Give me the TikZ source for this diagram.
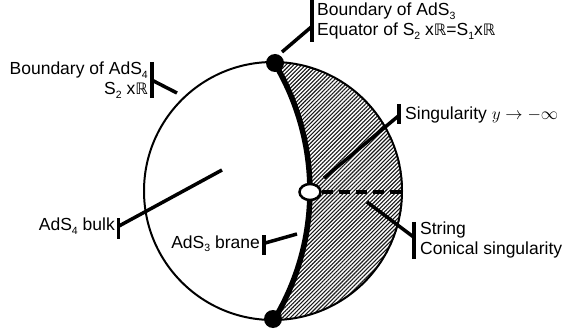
\documentclass[tikz,border=0pt]{standalone}
\usepackage{fontspec}
\setmainfont{Liberation Sans}
\newfontfamily\dvfont{DejaVu Sans}[Scale=0.9]
\usetikzlibrary{patterns.meta,shapes.geometric}
\newcommand{\subs}[1]{\raisebox{-0.35ex}{\fontsize{10.5}{10.5}\selectfont #1}}
\newcommand{\RR}{{\dvfont ℝ}}
\begin{document}
\begin{tikzpicture}[x=1pt,y=1pt,
  lbl/.style={inner sep=0pt, font=\fontsize{17.5}{20}\selectfont},
  leader/.style={line width=3.5pt},
  barline/.style={line width=3.5pt},
  outline/.style={line width=2pt},
  bigdot/.style={circle, fill=black, minimum size=18pt, inner sep=0pt},
  opendot/.style={ellipse, draw, fill=white, line width=2.5pt, minimum width=21pt, minimum height=16pt, inner sep=0pt},
]
\fill[white] (0,0) rectangle (565,-331);
\useasboundingbox (0,0) rectangle (565,-331);
\coordinate (C) at (273,-191);
\coordinate (T) at (273.9,-62);
\coordinate (B) at (273.9,-320);
\coordinate (O) at (310,-192);
\coordinate (E) at (402,-192);
% hatched region
\fill[pattern={Lines[angle=45,distance=2.8pt,line width=1.1pt]}, pattern color=black!90]
  (T) arc[start angle=31.2,end angle=-31.2,radius=249.1]
      arc[start angle=-90,end angle=90,radius=129] -- cycle;
% AdS4 circle
\draw[outline] (C) circle[radius=129];
% brane
\draw[line width=5.5pt] (T) arc[start angle=31.2,end angle=-31.2,radius=249.1];
% dots
\node[bigdot] (td) at (275,-63) {};
\node[bigdot] (bd) at (273,-319) {};
\node[opendot] (oc) at (O) {};
% string
\draw[line width=4.5pt, dash pattern=on 11pt off 6pt] (oc.east) -- (E);

% labels
\node[lbl, anchor=north west, align=left] (lt) at (317,-3)
  {Boundary of AdS\subs{3}\\Equator of S\subs{2} x\RR=S\subs{1}x\RR};
\node[lbl, anchor=north east, align=right] (ll) at (148,-62)
  {Boundary of AdS\subs{4}\\S\subs{2} x\RR};
\node[lbl, anchor=base west] (ls) at (405,-120) {Singularity $y\to-\infty$};
\node[lbl, anchor=north west, align=left] (lst) at (420,-222)
  {String\\Conical singularity};
\node[lbl, anchor=base east] (lb) at (115,-231) {AdS\subs{4} bulk};
\node[lbl, anchor=base east] (lbr) at (260,-248) {AdS\subs{3} brane};

% leader end points
\coordinate (pt) at (282,-52);
\coordinate (pl) at (177,-93);
\coordinate (ps) at (324,-178);
\coordinate (pst) at (367,-202);
\coordinate (pb) at (222,-170);
\coordinate (pbr) at (297,-234);

% bars
\draw[barline] ([xshift=-5pt,yshift=3pt]lt.north west) -- ([xshift=-5pt,yshift=-2pt]lt.south west);
\draw[barline] ([xshift=4pt]ll.north east) -- ([xshift=4pt]ll.south east);
\draw[barline] ([xshift=-6pt,yshift=3pt]ls.north west) -- ([xshift=-6pt]ls.south west);
\draw[barline] ([xshift=-6pt]lst.north west) -- ([xshift=-6pt]lst.south west);
\draw[barline] ([xshift=3.5pt]lb.north east) -- ([xshift=3.5pt,yshift=-5pt]lb.south east);
\draw[barline] ([xshift=4pt]lbr.north east) -- ([xshift=4pt,yshift=-3pt]lbr.south east);

% leaders
\draw[leader] (pt) -- ([xshift=-5pt,yshift=-5pt]lt.west);
\draw[leader] ([xshift=4pt]ll.east) -- (pl);
\draw[leader] (ps) -- ([xshift=-6pt]ls.west);
\draw[leader] (pst) -- ([xshift=-6pt,yshift=3pt]lst.west);
\draw[leader] ([xshift=3.5pt]lb.east) -- (pb);
\draw[leader] ([xshift=4pt]lbr.east) -- (pbr);
\end{tikzpicture}
\end{document}
